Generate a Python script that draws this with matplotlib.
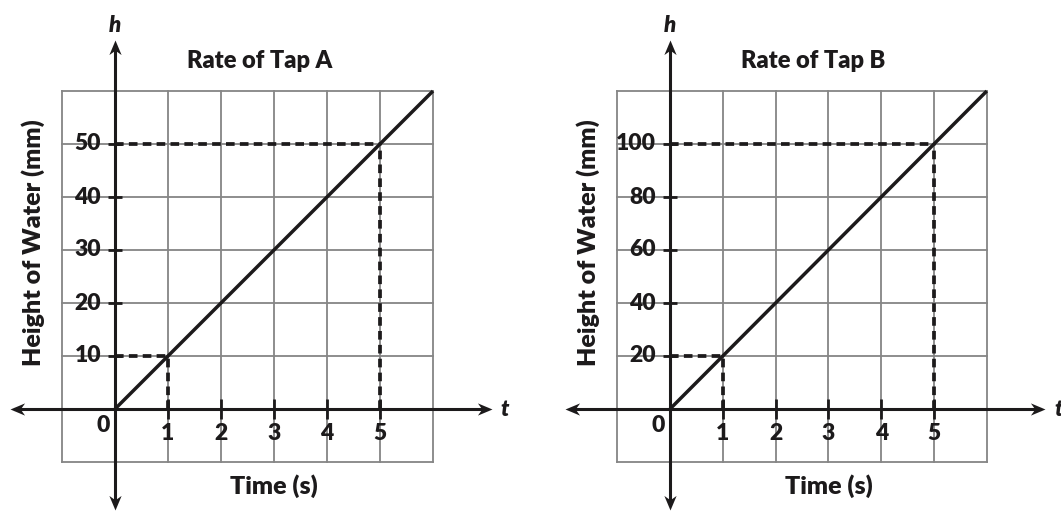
import matplotlib
matplotlib.use("Agg")
import matplotlib.pyplot as plt
from matplotlib.path import Path
from matplotlib.markers import MarkerStyle
from matplotlib.transforms import Affine2D

plt.rcParams['font.family'] = ['Lato', 'DejaVu Sans']

# ---------------- data ----------------
titles = ["Rate of Tap A", "Rate of Tap B"]
time_ticks = [1, 2, 3, 4, 5]
height_ticks_A = [10, 20, 30, 40, 50]
height_ticks_B = [20, 40, 60, 80, 100]
line_t = [0, 6]
line_h_A = [0, 60]
line_h_B = [0, 120]
guide_t = [1, 5]
guide_h_A = [10, 50]
guide_h_B = [20, 100]
x_label = "Time (s)"
y_label = "Height of Water (mm)"

W, H = 1061, 511
DPI = 100
fig = plt.figure(figsize=(W / DPI, H / DPI), dpi=DPI)

GRID_C = "#858585"
INK = "#1c1a1b"
PT = 0.72  # points per pixel
WEIGHT = "heavy"


def arrow_marker(angle):
    verts = [(0, 0), (-1, 0.42), (-0.7, 0), (-1, -0.42), (0, 0)]
    codes = [Path.MOVETO, Path.LINETO, Path.LINETO, Path.LINETO, Path.CLOSEPOLY]
    return MarkerStyle(Path(verts, codes), transform=Affine2D().rotate_deg(angle))


def panel(left_px, width_px, origin_px, unit_x_px, unit_y_px, step,
          hticks, line_h, guide_h, title):
    ax = fig.add_axes([left_px / W, 0, width_px / W, 1])
    ox, oy = origin_px
    sx = unit_x_px              # pixels per time unit
    sy = unit_y_px / step       # pixels per height unit
    ax.set_xlim((left_px - ox) / sx, (left_px + width_px - ox) / sx)
    ax.set_ylim((oy - H) / sy, oy / sy)
    ax.axis("off")

    xmin_g, xmax_g = -1, 6
    ymin_g, ymax_g = -step, 6 * step
    # grid
    for gx in range(xmin_g, xmax_g + 1):
        ax.plot([gx, gx], [ymin_g, ymax_g], color=GRID_C, lw=1.3, zorder=1,
                solid_capstyle="projecting")
    for k in range(-1, 7):
        gy = k * step
        ax.plot([xmin_g, xmax_g], [gy, gy], color=GRID_C, lw=1.3, zorder=1,
                solid_capstyle="projecting")

    # axes with arrows
    xa0, xa1 = -1.98, 7.11
    ya0, ya1 = -1.9 * step, 6.96 * step
    ax.plot([xa0 + 0.1, xa1 - 0.1], [0, 0], color=INK, lw=2.2, zorder=4)
    ax.plot([0, 0], [ya0 + 0.12 * step, ya1 - 0.12 * step],
            color=INK, lw=2.2, zorder=4)
    ms = 21
    ax.plot([xa1], [0], marker=arrow_marker(0), ms=ms, color=INK, mew=0, zorder=5)
    ax.plot([xa0], [0], marker=arrow_marker(180), ms=ms, color=INK, mew=0, zorder=5)
    ax.plot([0], [ya1], marker=arrow_marker(90), ms=ms, color=INK, mew=0, zorder=5)
    ax.plot([0], [ya0], marker=arrow_marker(270), ms=ms, color=INK, mew=0, zorder=5)

    tick_kw = dict(textcoords="offset points", fontsize=16.5, fontweight=WEIGHT,
                   color=INK, zorder=6)
    # ticks on axes
    for t in time_ticks:
        ax.plot([t], [0], marker="|", ms=14 * PT * 1.4, mew=2.0, color=INK, zorder=5)
        ax.annotate(str(t), xy=(t, 0), xytext=(0, -24 * PT), ha="center", va="center",
                    **tick_kw)
    for h in hticks:
        ax.plot([0], [h], marker="_", ms=10 * PT * 1.4, mew=2.0, color=INK, zorder=5)
        ax.annotate(str(h), xy=(0, h), xytext=(-14 * PT, 0), ha="right", va="center",
                    **tick_kw)
    ax.annotate("0", xy=(0, 0), xytext=(-12 * PT, -16 * PT), ha="center", va="center",
                **tick_kw)

    # rate line
    ax.plot(line_t, line_h, color=INK, lw=2.5, zorder=3, solid_capstyle="butt")
    # dashed guides
    for gt, gh in zip(guide_t, guide_h):
        ax.plot([0, gt], [gh, gh], color=INK, lw=2.7, dashes=(2.3, 1.4), zorder=2)
        ax.plot([gt, gt], [0, gh], color=INK, lw=2.7, dashes=(2.3, 1.4), zorder=2)

    # labels
    ax.annotate(title, xy=(2.72, 6 * step), xytext=(0, 23 * PT), textcoords="offset points",
                ha="center", va="baseline", fontsize=17, fontweight=WEIGHT, color=INK)
    ax.annotate(x_label, xy=(3, -step), xytext=(0, -32 * PT), textcoords="offset points",
                ha="center", va="baseline", fontsize=18, fontweight=WEIGHT, color=INK)
    ax.annotate(y_label, xy=(-1, 3.13 * step), xytext=(-29 * PT, 0),
                textcoords="offset points", ha="center", va="center", rotation=90,
                fontsize=18, fontweight=WEIGHT, color=INK)
    ax.annotate("h", xy=(0, ya1), xytext=(0, 15 * PT), textcoords="offset points",
                ha="center", va="center", fontsize=16, fontweight=WEIGHT,
                fontstyle="italic", color=INK)
    ax.annotate("t", xy=(xa1, 0), xytext=(13 * PT, 0), textcoords="offset points",
                ha="center", va="center", fontsize=16, fontweight=WEIGHT,
                fontstyle="italic", color=INK, annotation_clip=False)
    return ax


panel(0, 530, (115, 409), 53, 53, 10, height_ticks_A, line_h_A, guide_h_A, titles[0])
panel(535, 526, (670, 409), 52.8, 53, 20, height_ticks_B, line_h_B, guide_h_B, titles[1])

fig.savefig("out.png", dpi=DPI)
